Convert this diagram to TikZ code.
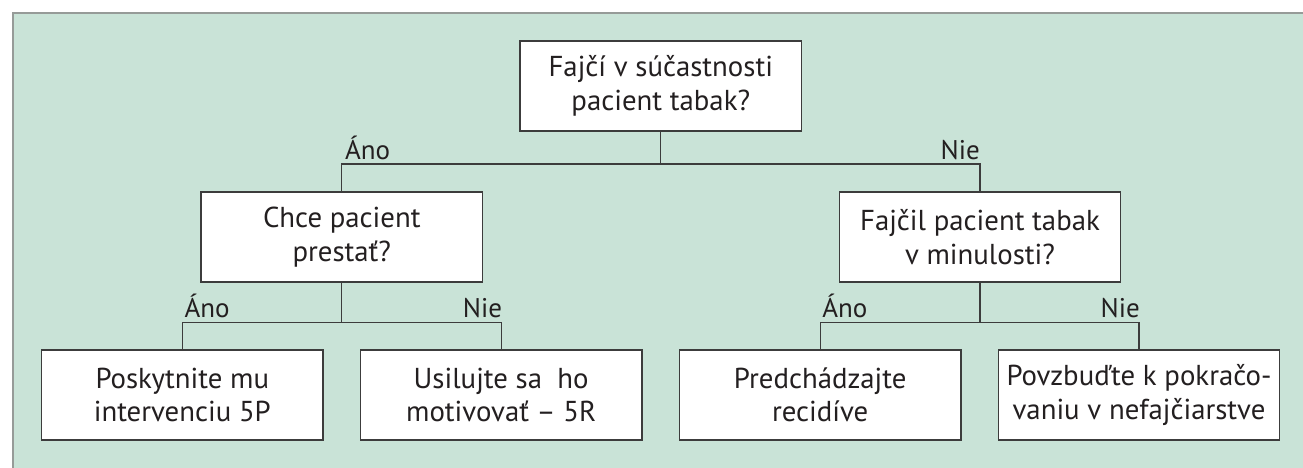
\documentclass[tikz,border=0pt]{standalone}
\usepackage{fontspec}
\setmainfont{PT Sans}
\usetikzlibrary{calc}
\definecolor{bgc}{RGB}{201,227,215}
\definecolor{bordc}{RGB}{150,155,152}
\definecolor{linec}{RGB}{60,60,60}
\definecolor{txtc}{RGB}{35,31,32}
\tikzset{
  box/.style={draw=linec, line width=1.4pt, fill=white, minimum width=281.5pt, minimum height=90pt,
    inner sep=0pt, align=center, text=txtc, font=\fontsize{28.8}{33.5}\selectfont},
  conn/.style={draw=linec, line width=1.3pt},
  lbl/.style={text=txtc, inner sep=0pt, font=\fontsize{27}{30}\selectfont}
}
\begin{document}
\begin{tikzpicture}[x=1pt,y=-1pt]
\useasboundingbox (0,0) rectangle (1303,468);
\fill[bgc] (13,13) rectangle (1303,468);
\draw[bordc, line width=1.5pt] (13,468) -- (13,13) -- (1303,13);

\node[box] (top) at (660.8,86) {Fajčí v súčastnosti\\pacient tabak?};
\node[box] (chce) at (341.8,237) {Chce pacient\\prestať?};
\node[box] (fajcil) at (980,237) {Fajčil pacient tabak\\v minulosti?};
\node[box] (b1) at (182.3,395) {Poskytnite mu\\intervenciu 5P};
\node[box] (b2) at (501.2,395) {Usilujte sa\ \ ho\\motivovať – 5R};
\node[box] (b3) at (820.2,395) {Predchádzajte\\recidíve};
\node[box] (b4) at (1139,395) {Povzbuďte k pokračo-\\vaniu v nefajčiarstve};

\coordinate (j1) at (660.8,164);
\coordinate (j2) at (341.8,322.7);
\coordinate (j3) at (980,322.7);

\draw[conn] (top.south) -- (j1);
\draw[conn] (chce.north) |- (j1) -| (fajcil.north);
\draw[conn] (chce.south) -- (j2);
\draw[conn] (b1.north) |- (j2) -| (b2.north);
\draw[conn] (fajcil.south) -- (j3);
\draw[conn] (b3.north) |- (j3) -| (b4.north);

\node[lbl, anchor=base west] (l1) at ($(chce.north |- j1)+(3,-5)$) {Áno};
\node[lbl, anchor=base east] (l2) at ($(fajcil.north |- j1)+(0,-5)$) {Nie};
\node[lbl, anchor=base west] (l3) at ($(b1.north |- j2)+(2,-5)$) {Áno};
\node[lbl, anchor=base east] (l4) at ($(b2.north |- j2)+(1,-5)$) {Nie};
\node[lbl, anchor=base west] (l5) at ($(b3.north |- j3)+(2,-5)$) {Áno};
\node[lbl, anchor=base east] (l6) at ($(b4.north |- j3)+(1,-5)$) {Nie};
\end{tikzpicture}
\end{document}
